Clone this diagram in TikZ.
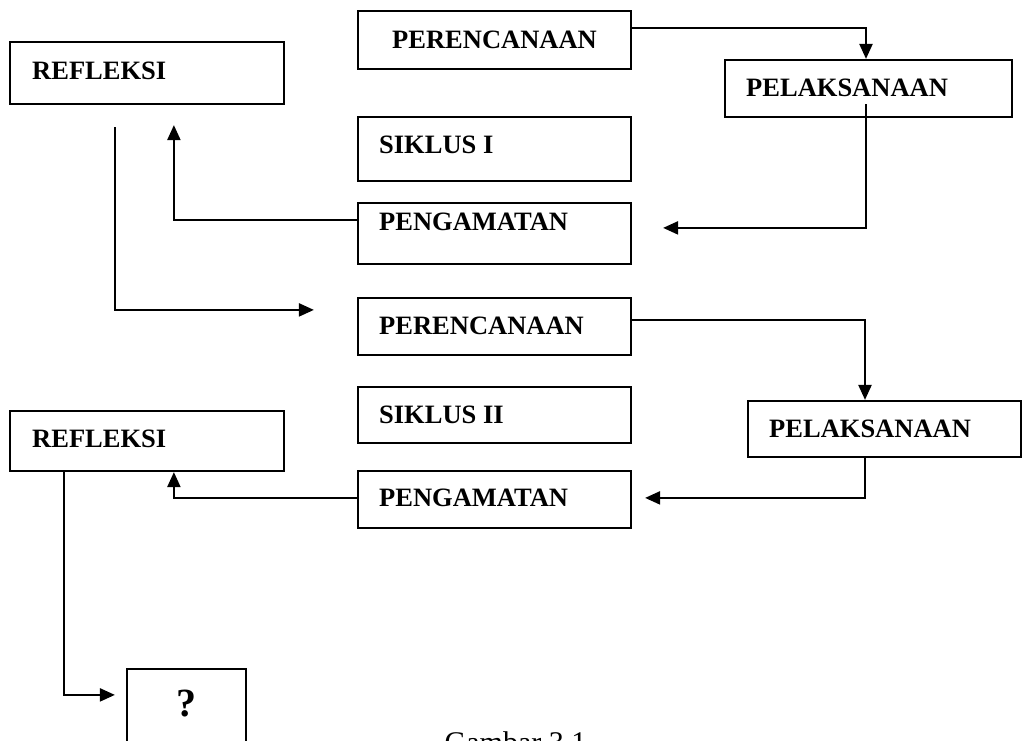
\documentclass[tikz,border=0pt]{standalone}
\usepackage{fontspec}
\setmainfont{Liberation Serif}
\usetikzlibrary{arrows.meta,calc}
\tikzset{
  box/.style={draw=black, line width=2.2pt, rectangle, inner sep=0pt},
  lbl/.style={inner sep=0pt, anchor=base west, font=\fontsize{26.5}{30}\selectfont\bfseries},
  conn/.style={draw=black, line width=2.2pt},
  arr/.style={conn, -{Triangle[length=15pt,width=13pt]}}
}
\begin{document}
\begin{tikzpicture}[x=1pt,y=-1pt]
\useasboundingbox (0,0) rectangle (1023,740);
\clip (0,0) rectangle (1023,740);
% boxes
\node[box, minimum width=274pt, minimum height=62pt] (r1) at (147,73) {};
\node[box, minimum width=273pt, minimum height=58pt] (p1) at (494.5,40) {};
\node[box, minimum width=273pt, minimum height=64pt] (s1) at (494.5,149) {};
\node[box, minimum width=273pt, minimum height=61pt] (g1) at (494.5,233.5) {};
\node[box, minimum width=287pt, minimum height=57pt] (l1) at (868.5,88.5) {};
\node[box, minimum width=273pt, minimum height=57pt] (p2) at (494.5,326.5) {};
\node[box, minimum width=273pt, minimum height=56pt] (s2) at (494.5,415) {};
\node[box, minimum width=273pt, minimum height=57pt] (g2) at (494.5,499.5) {};
\node[box, minimum width=274pt, minimum height=60pt] (r2) at (147,441) {};
\node[box, minimum width=273pt, minimum height=56pt] (l2) at (884.5,429) {};
\node[box, minimum width=119pt, minimum height=110pt] (q) at (186.5,724) {};
% labels
\node[lbl] (r1t) at (32,79) {REFLEKSI};
\node[lbl] (p1t) at (392,48) {PERENCANAAN};
\node[lbl] (s1t) at (379,153) {SIKLUS I};
\node[lbl] (g1t) at (379,230) {PENGAMATAN};
\node[lbl] (l1t) at (746,96) {PELAKSANAAN};
\node[lbl] (p2t) at (379,334) {PERENCANAAN};
\node[lbl] (s2t) at (379,423) {SIKLUS II};
\node[lbl] (r2t) at (32,447) {REFLEKSI};
\node[lbl] (g2t) at (379,506) {PENGAMATAN};
\node[lbl] (l2t) at (769,437) {PELAKSANAAN};
\node[lbl, anchor=base, font=\fontsize{40}{44}\selectfont\bfseries] (qt) at (186.5,716) {?};
\node[inner sep=0pt, anchor=base, font=\fontsize{30}{34}\selectfont] (cap) at (515.5,752) {Gambar 3.1};
% connectors
\draw[arr] ($(p1.north east)+(0,18)$) -| ([xshift=-2.5pt]l1.north);
\draw[arr] ([xshift=-2.5pt,yshift=14pt]l1.south) |- ($(g1.north east)+(31,26)$);
\draw[arr] ($(g1.north west)+(0,18)$) -| ($(r1.south west)+(165,20)$);
\draw[arr] ($(r1.south west)+(106,22)$) |- ($(p2.north west)+(-43,13)$);
\draw[arr] ($(p2.north east)+(0,23)$) -| ([xshift=-19.5pt]l2.north);
\draw[arr] ([xshift=-19.5pt]l2.south) |- ($(g2.north east)+(13,28)$);
\draw[arr] ($(g2.north west)+(0,28)$) -| ($(r2.south west)+(165,0)$);
\draw[arr] ($(r2.south west)+(55,0)$) |- ($(q.north west)+(-11,27)$);
\end{tikzpicture}
\end{document}
